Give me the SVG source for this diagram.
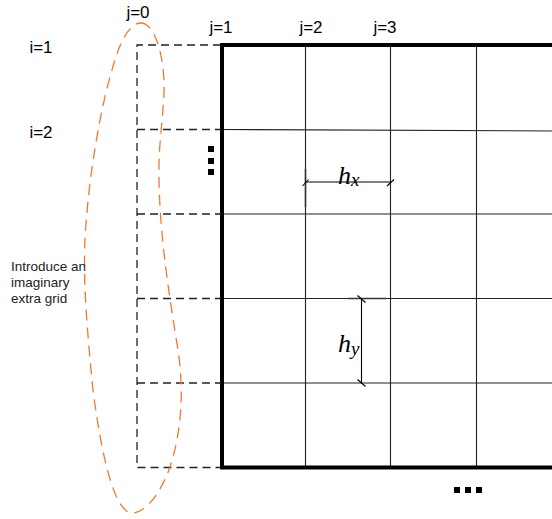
<svg xmlns="http://www.w3.org/2000/svg" width="552" height="519" viewBox="0 0 552 519">
<style>
.lbl{font-family:"Liberation Sans",Arial,sans-serif;font-size:17px;fill:#000}
.note{font-family:"Liberation Sans",Arial,sans-serif;font-size:13.5px;fill:#222}
.math{font-family:"Liberation Serif","Times New Roman",serif;font-style:italic;fill:#000}
.grid{stroke:#222;stroke-width:1.1;fill:none}
.thick{stroke:#000;stroke-width:4;fill:none}
.dash{stroke:#222;stroke-width:1.3;stroke-dasharray:8 5;fill:none}
.dim{stroke:#000;stroke-width:1.1;fill:none}
.dot{fill:#000}
</style>
<rect width="552" height="519" fill="#fff"/>
<g id="grid">
<line class="grid" x1="305.5" y1="45" x2="305.5" y2="467.5"/>
<line class="grid" x1="390.5" y1="45" x2="390.5" y2="467.5"/>
<line class="grid" x1="476.5" y1="45" x2="476.5" y2="467.5"/>
<line class="grid" x1="221" y1="129.5" x2="552" y2="131"/>
<line class="grid" x1="221" y1="214" x2="552" y2="214"/>
<line class="grid" x1="221" y1="298.5" x2="552" y2="298.5"/>
<line class="grid" x1="221" y1="383" x2="552" y2="383"/>
<path class="thick" d="M552,45 H222 V467.5 H552"/>
</g>
<g id="ghost-grid">
<path class="dash" d="M221,45 H137 V467.5 H221"/>
<line class="dash" x1="137" y1="129.5" x2="221" y2="129.5"/>
<line class="dash" x1="137" y1="214" x2="221" y2="214"/>
<line class="dash" x1="137" y1="298.5" x2="221" y2="298.5"/>
<line class="dash" x1="137" y1="383" x2="221" y2="383"/>
</g>
<g id="ellipse">
<path d="M141,23 C152,23 162,45 164,80 C165,110 158,140 159,180 C160,240 170,300 178,350 C184,390 182,430 170,467 C160,495 145,513 132,513 C118,513 104,475 93,390 C87,330 83,280 85,240 C88,180 100,110 112,70 C120,40 130,23 141,23 Z" fill="none" stroke="#f07a2a" stroke-width="1.3" stroke-dasharray="11 7"/>
</g>
<g id="labels">
<text class="lbl" x="138" y="18" text-anchor="middle">j=0</text>
<text class="lbl" x="221" y="32.5" text-anchor="middle">j=1</text>
<text class="lbl" x="311" y="32.5" text-anchor="middle">j=2</text>
<text class="lbl" x="385" y="32.5" text-anchor="middle">j=3</text>
<text class="lbl" x="41" y="53" text-anchor="middle">i=1</text>
<text class="lbl" x="41" y="138" text-anchor="middle">i=2</text>
<text class="note" x="11" y="271">Introduce an</text>
<text class="note" x="11" y="287">imaginary</text>
<text class="note" x="11" y="303">extra grid</text>
</g>
<g id="dots">
<rect class="dot" x="208" y="146" width="6" height="6"/>
<rect class="dot" x="208" y="158" width="6" height="6"/>
<rect class="dot" x="208" y="169" width="6" height="6"/>
<rect class="dot" x="454" y="487" width="6" height="6"/>
<rect class="dot" x="465" y="487" width="6" height="6"/>
<rect class="dot" x="476" y="487" width="6" height="6"/>
</g>
<g id="hx">
<line class="dim" x1="305.5" y1="182" x2="390.5" y2="182"/>
<line stroke="#333" stroke-width="1.6" x1="305.5" y1="169" x2="305.5" y2="207"/>
<line class="dim" x1="302.5" y1="186" x2="308.5" y2="179.5"/>
<line class="dim" x1="387" y1="186" x2="394" y2="179.5"/>
<text class="math" x="338" y="184" font-size="26">h<tspan font-size="19" dy="2">x</tspan></text>
</g>
<g id="hy">
<line class="dim" x1="361.5" y1="299" x2="361.5" y2="383"/>
<line stroke="#333" stroke-width="1.6" x1="348" y1="298.5" x2="386" y2="298.5"/>
<line class="dim" x1="357.5" y1="295.5" x2="365.5" y2="302.5"/>
<line class="dim" x1="357.5" y1="379.5" x2="365.5" y2="386.5"/>
<text class="math" x="338" y="352" font-size="26">h<tspan font-size="19" dy="3">y</tspan></text>
</g>
</svg>
